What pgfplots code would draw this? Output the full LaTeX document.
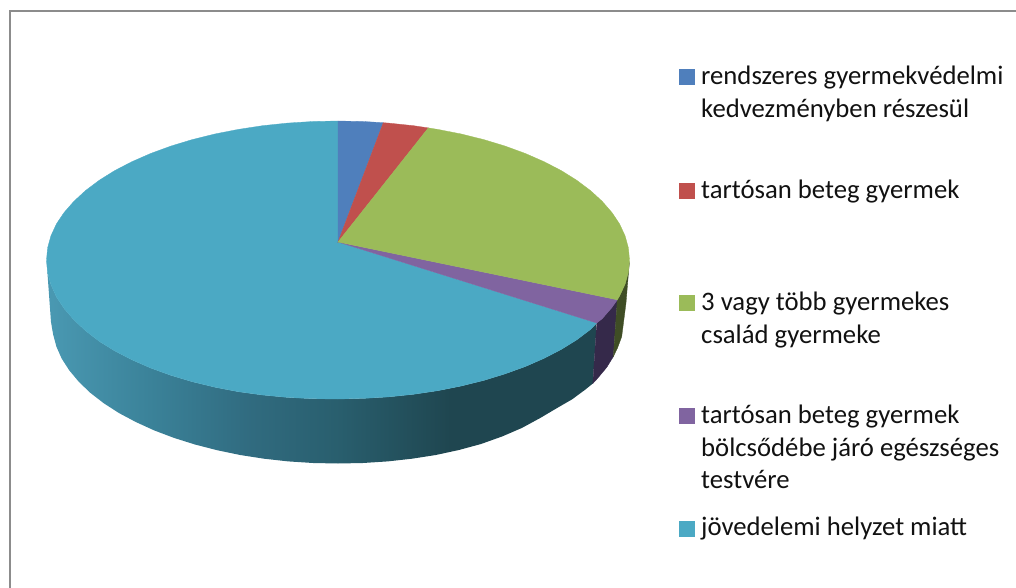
\documentclass[border=0pt]{standalone}
\usepackage{pgfplots}
\pgfplotsset{compat=1.18}
\usepackage{fontspec}
\setmainfont{Carlito}
\definecolor{cblue}{HTML}{4F7FBC}
\definecolor{cred}{HTML}{C0504D}
\definecolor{cgreen}{HTML}{9BBB59}
\definecolor{cpurple}{HTML}{8064A0}
\definecolor{cteal}{HTML}{4BA9C4}
\definecolor{cpurpleside}{HTML}{35294A}
\definecolor{cgreenside}{HTML}{3F4D25}
\definecolor{cframe}{HTML}{8C8C8C}
\definecolor{ctext}{HTML}{111111}
\pgfdeclarehorizontalshading{tealside}{100bp}{
  rgb(0bp)=(0.29,0.60,0.70);
  rgb(25bp)=(0.29,0.60,0.70);
  rgb(34.4bp)=(0.23,0.51,0.60);
  rgb(43.5bp)=(0.19,0.42,0.50);
  rgb(51.5bp)=(0.16,0.37,0.43);
  rgb(61.7bp)=(0.122,0.275,0.314);
  rgb(100bp)=(0.122,0.275,0.314)}
\tikzset{txt/.style={anchor=base west, inner sep=0pt, font=\fontsize{26.7}{32}\selectfont, text=ctext}}
\begin{document}
\begin{tikzpicture}
\begin{axis}[
  scale only axis, x=1pt, y=1pt, y dir=reverse,
  xmin=0, xmax=1016, ymin=0, ymax=588,
  axis lines=none, ticks=none,
  every axis plot/.append style={line width=0.3pt},
]
\path (axis cs:0,0) rectangle (axis cs:1016,588);
% frame
\addplot[cframe, line width=2pt] coordinates {(9.5,588) (9.5,11) (1016,11)};
% side: teal
\addplot[shade, shading=tealside, draw=none] coordinates {
(596.7,323) (590.4,329.5) (576.8,339.8) (561.3,349.4) (544.1,358.3) (525.4,366.5) (505.2,373.8) (483.8,380.4)
(461.3,386.0) (437.7,390.7) (413.5,394.3) (388.6,396.9) (363.4,398.4) (338,399) (312.6,398.7) (287.4,397.4)
(262.5,395.0) (238.3,391.7) (214.8,387.2) (192.2,381.7) (170.8,375.3) (150.6,368.0) (131.9,359.8) (114.7,350.9)
(99.2,341.3) (85.6,330.8) (73.9,319.9) (64.1,308.5) (56.4,296.8) (50.9,284.6) (47.6,272.3) (46.5,260)
(51.0,322) (53.1,334.3) (56.4,346.6) (61.7,358.6) (69.3,370.4) (78.8,381.8) (90.3,392.8) (103.7,403.2)
(118.9,413) (135.8,422) (154.2,430.4) (174,437.9) (195,444.5) (217.1,450.2) (240.2,455.0) (264,458.7)
(288.3,461.4) (313.1,463.0) (338,463.5) (362.9,463.0) (387.7,461.4) (412,458.7) (435.8,455) (458.9,450)
(481,444) (502,436.5) (521.8,428) (540.2,418) (557.1,408) (572.3,399.2) (585.7,389.3) (592.8,383.5)
} --cycle;
% side: purple
\addplot[fill=cpurpleside, draw=cpurpleside] coordinates {
(617.3,299.8) (611.9,307.5) (602.2,318.7) (596.7,323) (592.8,383.5) (597.2,378.8) (606.7,367.4) (613.3,356.7)
} --cycle;
% side: green
\addplot[fill=cgreenside, draw=cgreenside] coordinates {
(617.3,299.8) (619.6,296.0) (625.1,284.1) (628.4,272.1) (629.5,262) (628.3,275) (626,303) (621.7,336.7) (617.5,348) (613.3,356.7)
} --cycle;
% top: teal
\addplot[fill=cteal, draw=cteal] coordinates {
(338,242) (596.7,323) (590.4,329.5) (576.8,339.8) (561.3,349.4) (544.1,358.3) (525.4,366.5) (505.2,373.8) (483.8,380.4)
(461.3,386.0) (437.7,390.7) (413.5,394.3) (388.6,396.9) (363.4,398.4) (338,399) (312.6,398.7) (287.4,397.4)
(262.5,395.0) (238.3,391.7) (214.8,387.2) (192.2,381.7) (170.8,375.3) (150.6,368.0) (131.9,359.8) (114.7,350.9)
(99.2,341.3) (85.6,330.8) (73.9,319.9) (64.1,308.5) (56.4,296.8) (50.9,284.6) (47.6,272.3) (46.5,260)
(47.6,247.9) (50.9,235.9) (56.4,224.0) (64.1,212.5) (73.9,201.3) (85.6,190.5) (99.2,180.3) (114.7,170.6)
(131.9,161.7) (150.6,153.5) (170.8,146.1) (192.2,139.6) (214.8,134.0) (238.3,129.4) (262.5,125.7) (287.4,123.1)
(312.6,121.5) (338,121)
} --cycle;
% top: blue
\addplot[fill=cblue, draw=cblue] coordinates {(338,242) (338,121) (363.4,121.5) (383.3,122.7)} --cycle;
% top: red
\addplot[fill=cred, draw=cred] coordinates {(338,242) (383.3,122.7) (388.6,123.1) (413.5,125.7) (428.3,127.9)} --cycle;
% top: purple
\addplot[fill=cpurple, draw=cpurple] coordinates {(338,242) (617.3,299.8) (611.9,307.5) (602.2,318.7) (596.7,323)} --cycle;
% top: green
\addplot[fill=cgreen, draw=cgreen] coordinates {
(338,242) (428.3,127.9) (437.7,129.4) (461.3,134.0) (483.8,139.6) (505.2,146.1) (525.4,153.5) (544.1,161.7) (561.3,170.6)
(576.8,180.3) (590.4,190.5) (602.2,201.3) (611.9,212.5) (619.6,224.0) (625.1,235.9) (628.4,247.9) (629.5,260)
(628.4,272.1) (625.1,284.1) (619.6,296.0) (617.3,299.8)
} --cycle;
% legend squares
\addplot[only marks, mark=square*, mark size=7.5pt, mark options={solid, draw=cblue, fill=cblue, line width=0pt}] coordinates {(686.5,77.5)};
\addplot[only marks, mark=square*, mark size=7.5pt, mark options={solid, draw=cred, fill=cred, line width=0pt}] coordinates {(686.5,190.5)};
\addplot[only marks, mark=square*, mark size=7.5pt, mark options={solid, draw=cgreen, fill=cgreen, line width=0pt}] coordinates {(686.5,302.7)};
\addplot[only marks, mark=square*, mark size=7.5pt, mark options={solid, draw=cpurple, fill=cpurple, line width=0pt}] coordinates {(686.5,415.5)};
\addplot[only marks, mark=square*, mark size=7.5pt, mark options={solid, draw=cteal, fill=cteal, line width=0pt}] coordinates {(686.5,528.5)};
% legend text
\node[txt] at (axis cs:701,85) {rendszeres gyermekvédelmi};
\node[txt] at (axis cs:701,118) {kedvezményben részesül};
\node[txt] at (axis cs:701,198) {tartósan beteg gyermek};
\node[txt] at (axis cs:701,310.5) {3 vagy több gyermekes};
\node[txt] at (axis cs:701,343) {család gyermeke};
\node[txt] at (axis cs:701,423) {tartósan beteg gyermek};
\node[txt] at (axis cs:701,456) {bölcsődébe járó egészséges};
\node[txt] at (axis cs:701,488) {testvére};
\node[txt] at (axis cs:701,535.5) {jövedelemi helyzet miatt};
\end{axis}
\end{tikzpicture}
\end{document}
